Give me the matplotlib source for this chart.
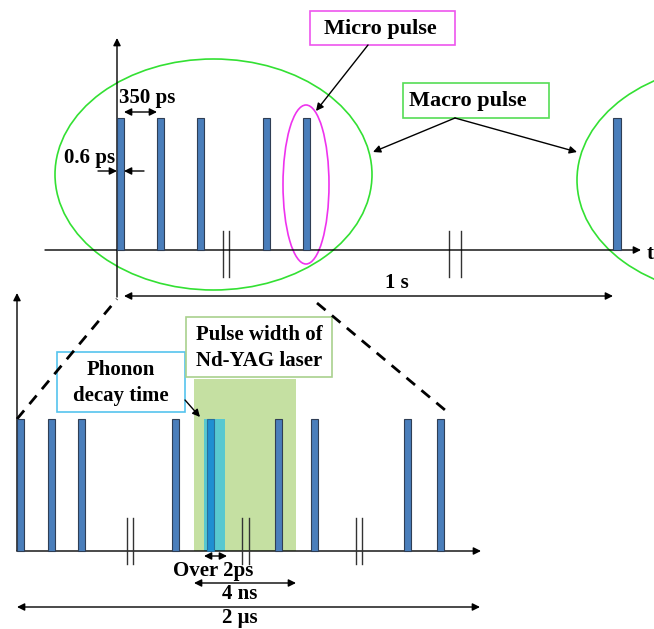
import matplotlib
matplotlib.use('Agg')
import matplotlib.pyplot as plt
from matplotlib.patches import Ellipse, Rectangle

# diagram laid out in pixel units (x to the right, y downwards)
top_pulses = [120.5, 160.5, 200.5, 266.5, 306.5, 617]
bot_pulses = [20, 51, 81, 175, 278, 314, 407, 440]
hit_pulse = 210
top_breaks = [[223, 229], [449, 461]]
bot_breaks = [[127, 133], [242, 249], [356, 362]]

BAR = '#4a7ebb'
EDGE = '#2f3e55'
FONT = dict(family='Liberation Serif', weight='bold', fontsize=15, color='black')

fig = plt.figure(figsize=(6.54, 6.29), dpi=100)
ax = fig.add_axes([0, 0, 1, 1])
ax.set_xlim(0, 654)
ax.set_ylim(629, 0)
ax.axis('off')


def arrow(x0, y0, x1, y1, both=False, lw=1.0):
    style = '<|-|>' if both else '-|>'
    ax.annotate('', xy=(x1, y1), xytext=(x0, y0),
                arrowprops=dict(arrowstyle=style, color='black', lw=lw,
                                mutation_scale=11, shrinkA=0, shrinkB=0))


# ---------- top panel ----------
arrow(117, 297, 117, 38)
arrow(45, 250, 641, 250)
ax.text(647, 254, 't', ha='left', va='center', **FONT)

ax.bar(top_pulses, [132] * len(top_pulses), width=7.5, bottom=118,
       color=BAR, edgecolor=EDGE, linewidth=0.8, zorder=3)

for pair in top_breaks:
    for bx in pair:
        ax.plot([bx, bx], [231, 277], color='#333333', lw=1)

ax.add_patch(Ellipse((213.5, 174.5), 317, 231, fill=False, ec='#33e033', lw=1.2))
ax.add_patch(Ellipse((735.5, 180), 317, 231, fill=False, ec='#33e033', lw=1.2))
ax.add_patch(Ellipse((306, 184.5), 46, 159, fill=False, ec='#ee33ee', lw=1.2))

ax.text(147, 98, '350 ps', ha='center', va='center', **FONT)
arrow(124, 112, 157, 112, both=True)
ax.text(90, 158, '0.6 ps', ha='center', va='center', **FONT)
arrow(98, 171, 117, 171)
arrow(144, 171, 124, 171)

arrow(124, 296, 613, 296, both=True)
ax.text(397, 283, '1 s', ha='center', va='center', **FONT)

ax.add_patch(Rectangle((310, 11), 145, 34, fill=False, ec='#ee55ee', lw=1.2))
ax.text(380, 29, 'Micro pulse', ha='center', va='center',
        **{**FONT, 'fontsize': 16})
arrow(368, 45, 316, 111)

ax.add_patch(Rectangle((403, 83), 146, 35, fill=False, ec='#55dd55', lw=1.2))
ax.text(468, 101, 'Macro pulse', ha='center', va='center',
        **{**FONT, 'fontsize': 16})
arrow(455, 118, 373, 152)
arrow(455, 118, 577, 152)

# ---------- bottom panel ----------
ax.plot([17, 117], [419, 299], ls=(0, (4, 3)), color='black', lw=2)
ax.plot([317, 445], [303, 410], ls=(0, (4, 3)), color='black', lw=2)

arrow(17, 551, 17, 293)
arrow(17, 551, 481, 551)

ax.add_patch(Rectangle((194, 379), 102, 172, color='#c5e0a2', lw=0, zorder=1))
ax.bar(bot_pulses, [132] * len(bot_pulses), width=7, bottom=419,
       color=BAR, edgecolor=EDGE, linewidth=0.8, zorder=3)
ax.add_patch(Rectangle((204, 419), 21, 132, color='#4cc6d6', alpha=0.9,
                       lw=0, zorder=2))
ax.bar([hit_pulse], [132], width=7, bottom=419,
       color='#1f8fd2', edgecolor='#2a6f9a', linewidth=0.8, zorder=3)

for pair in bot_breaks:
    for bx in pair:
        ax.plot([bx, bx], [518, 564], color='#333333', lw=1, zorder=5)

ax.add_patch(Rectangle((57, 352), 128, 60, fill=False, ec='#55c3ee', lw=1.2))
ax.text(121, 383, 'Phonon\ndecay time', ha='center', va='center',
        linespacing=1.35, **FONT)
arrow(185, 400, 200, 417)

ax.add_patch(Rectangle((186, 317), 146, 60, fill=False, ec='#a9d18e', lw=1.2))
ax.text(259, 348, 'Pulse width of\nNd-YAG laser', ha='center', va='center',
        linespacing=1.35, **FONT)

arrow(204, 556, 227, 556, both=True)
ax.text(213, 571, 'Over 2ps', ha='center', va='center', **FONT)
arrow(194, 583, 296, 583, both=True)
ax.text(240, 594, '4 ns', ha='center', va='center', **FONT)
arrow(17, 607, 480, 607, both=True)
ax.text(240, 618, '2 \u03bcs', ha='center', va='center', **FONT)

fig.savefig('out.png', dpi=100)
